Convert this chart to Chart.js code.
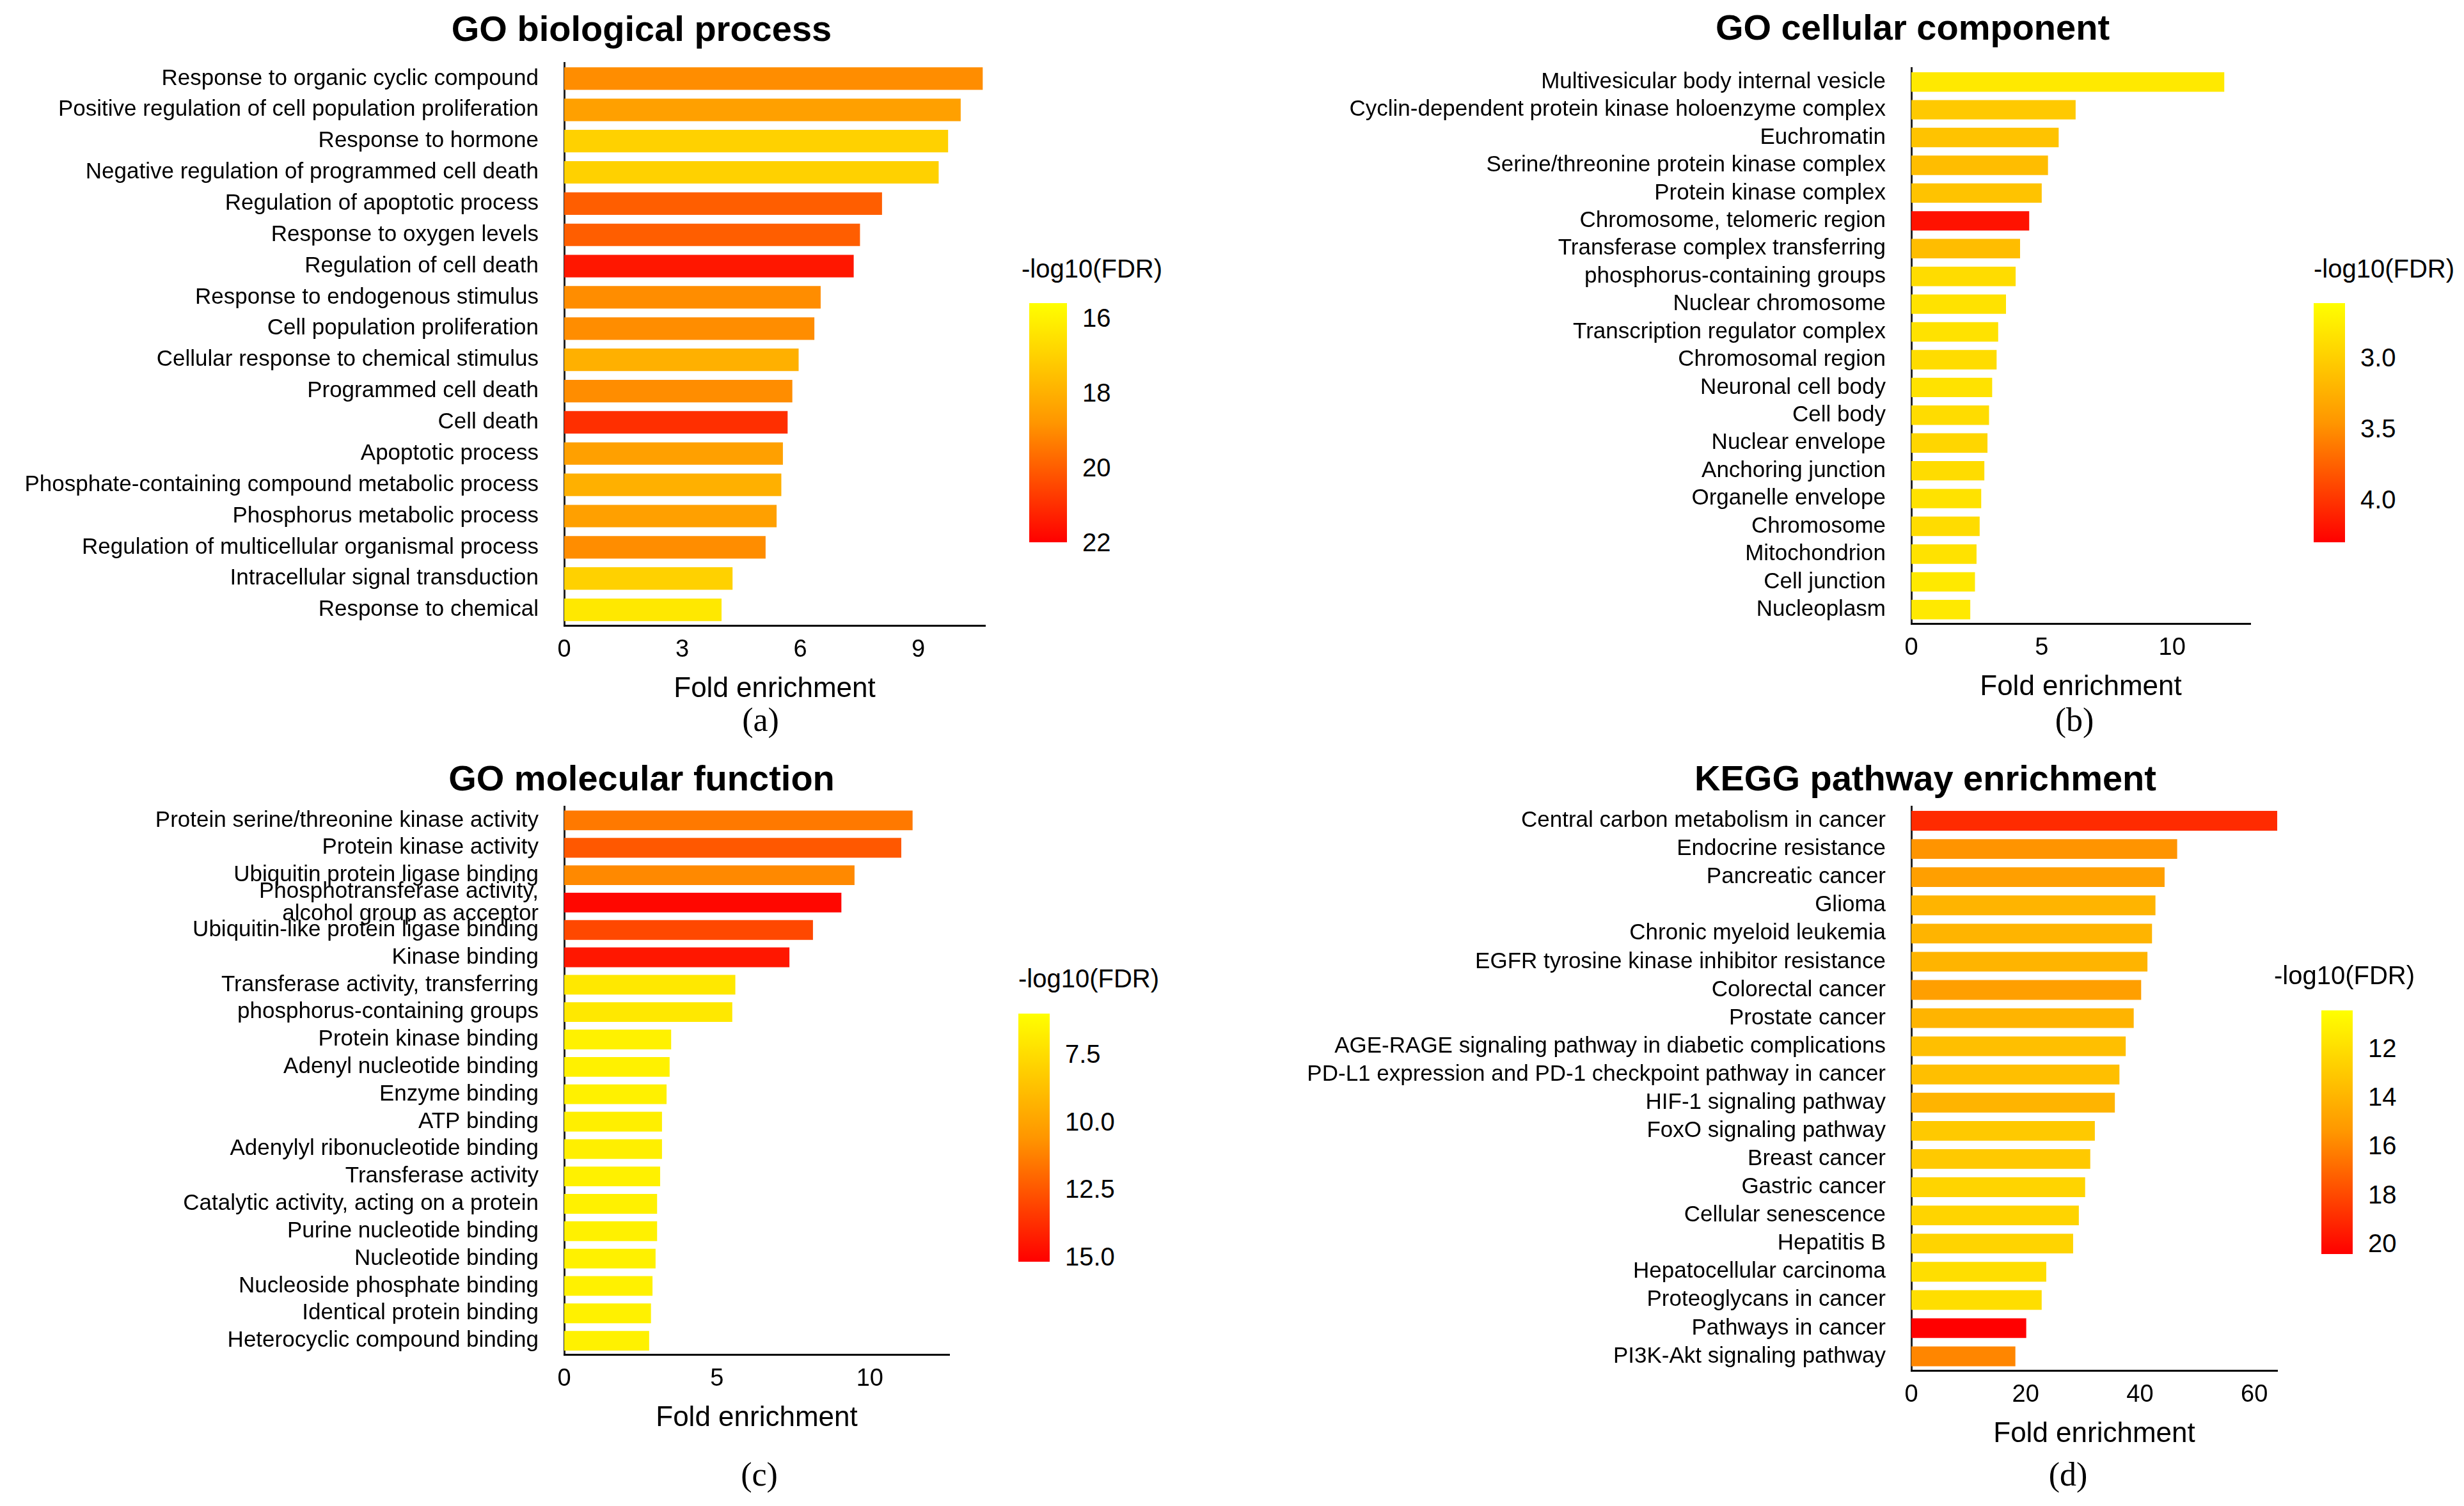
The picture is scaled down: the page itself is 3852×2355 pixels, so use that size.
<!DOCTYPE html>
<html>
<head>
<meta charset="utf-8">
<script src="https://cdn.jsdelivr.net/npm/chart.js@4/dist/chart.umd.min.js"></script>
<style>
  body { margin: 0; background: #fff; width: 3852px; height: 2355px; position: relative; overflow: hidden;
         font-family: "Liberation Sans", Arial, sans-serif; }
  canvas { position: absolute; }
  .title { position: absolute; font-weight: bold; font-size: 56px; transform: translate(-50%, -50%); white-space: nowrap; }
  .letter { position: absolute; font-family: "Liberation Serif", serif; font-size: 52px; transform: translate(-50%, -50%); }
  .lgtitle { position: absolute; font-size: 40px; white-space: nowrap; }
  .lgbar { position: absolute; }
  .lgtick { position: absolute; font-size: 40px; transform: translateY(-50%); }
</style>
</head>
<body>
<script>
// GO biological process
const bpLabels = ['Response to organic cyclic compound', 'Positive regulation of cell population proliferation',
  'Response to hormone', 'Negative regulation of programmed cell death', 'Regulation of apoptotic process',
  'Response to oxygen levels', 'Regulation of cell death', 'Response to endogenous stimulus',
  'Cell population proliferation', 'Cellular response to chemical stimulus', 'Programmed cell death',
  'Cell death', 'Apoptotic process', 'Phosphate-containing compound metabolic process',
  'Phosphorus metabolic process', 'Regulation of multicellular organismal process',
  'Intracellular signal transduction', 'Response to chemical'];
const bpFold = [10.64, 10.08, 9.76, 9.52, 8.08, 7.52, 7.36, 6.52, 6.36, 5.96, 5.8, 5.68, 5.56, 5.52, 5.4, 5.12, 4.28, 4.0];
const bpFdr = [19, 18.5, 17, 17, 20, 20, 21.5, 19, 19, 18, 19, 21, 18.5, 18, 18.5, 19, 17, 16.3];
const bpTicks = [16, 18, 20, 22];

// GO cellular component (the two-line label has a bar on each line in the figure)
const ccLabels = ['Multivesicular body internal vesicle', 'Cyclin-dependent protein kinase holoenzyme complex',
  'Euchromatin', 'Serine/threonine protein kinase complex', 'Protein kinase complex', 'Chromosome, telomeric region',
  'Transferase complex transferring', 'phosphorus-containing groups', 'Nuclear chromosome',
  'Transcription regulator complex', 'Chromosomal region', 'Neuronal cell body', 'Cell body', 'Nuclear envelope',
  'Anchoring junction', 'Organelle envelope', 'Chromosome', 'Mitochondrion', 'Cell junction', 'Nucleoplasm'];
const ccFold = [12.0, 6.3, 5.65, 5.24, 5.0, 4.52, 4.17, 4.0, 3.63, 3.33, 3.27, 3.1, 2.98, 2.92, 2.8, 2.68, 2.62, 2.5, 2.44, 2.26];
const ccFdr = [2.8, 3.05, 3.1, 3.15, 3.1, 4.2, 3.15, 2.9, 2.85, 2.85, 2.9, 2.85, 2.9, 2.95, 2.9, 2.85, 2.9, 2.85, 2.8, 2.8];
const ccTicks = [3.0, 3.5, 4.0];

// GO molecular function
const mfLabels = ['Protein serine/threonine kinase activity', 'Protein kinase activity', 'Ubiquitin protein ligase binding',
  ['Phosphotransferase activity,', 'alcohol group as acceptor'], 'Ubiquitin-like protein ligase binding', 'Kinase binding',
  'Transferase activity, transferring', 'phosphorus-containing groups', 'Protein kinase binding',
  'Adenyl nucleotide binding', 'Enzyme binding', 'ATP binding', 'Adenylyl ribonucleotide binding', 'Transferase activity',
  'Catalytic activity, acting on a protein', 'Purine nucleotide binding', 'Nucleotide binding',
  'Nucleoside phosphate binding', 'Identical protein binding', 'Heterocyclic compound binding'];
const mfFold = [11.4, 11.03, 9.5, 9.07, 8.14, 7.37, 5.6, 5.5, 3.5, 3.45, 3.35, 3.2, 3.2, 3.14, 3.04, 3.04, 2.99, 2.89, 2.84, 2.78];
const mfFdr = [11.5, 12.5, 11, 15, 13, 14.5, 7, 7, 6.6, 6.6, 6.6, 6.7, 6.7, 6.6, 6.6, 6.6, 6.6, 6.6, 6.6, 6.6];
const mfTicks = [7.5, 10.0, 12.5, 15.0];

// KEGG
const kgLabels = ['Central carbon metabolism in cancer', 'Endocrine resistance', 'Pancreatic cancer', 'Glioma',
  'Chronic myeloid leukemia', 'EGFR tyrosine kinase inhibitor resistance', 'Colorectal cancer', 'Prostate cancer',
  'AGE-RAGE signaling pathway in diabetic complications', 'PD-L1 expression and PD-1 checkpoint pathway in cancer',
  'HIF-1 signaling pathway', 'FoxO signaling pathway', 'Breast cancer', 'Gastric cancer', 'Cellular senescence',
  'Hepatitis B', 'Hepatocellular carcinoma', 'Proteoglycans in cancer', 'Pathways in cancer', 'PI3K-Akt signaling pathway'];
const kgFold = [64, 46.5, 44.3, 42.7, 42.1, 41.3, 40.2, 38.9, 37.5, 36.4, 35.6, 32.1, 31.3, 30.4, 29.3, 28.3, 23.6, 22.8, 20.1, 18.2];
const kgFdr = [19, 15.5, 15, 14, 14, 14, 15, 14, 13.5, 13.5, 14, 13, 13, 12.5, 12.5, 12.5, 12, 12, 20.5, 16];
const kgTicks = [12, 14, 16, 18, 20];

const stops = [[0, [255, 255, 0]], [0.5, [255, 150, 0]], [1, [255, 0, 0]]];
function colorAt(t) {
  t = Math.max(0, Math.min(1, t));
  for (let i = 1; i < stops.length; i++) {
    if (t <= stops[i][0]) {
      const a = stops[i - 1], b = stops[i];
      const f = (t - a[0]) / (b[0] - a[0]);
      const c = a[1].map((v, k) => Math.round(v + (b[1][k] - v) * f));
      return `rgb(${c[0]},${c[1]},${c[2]})`;
    }
  }
}

function el(cls, txt, css) {
  const d = document.createElement('div');
  d.className = cls;
  if (txt) d.textContent = txt;
  Object.assign(d.style, css);
  document.body.appendChild(d);
  return d;
}

function panel(p) {
  const cv = document.createElement('canvas');
  cv.width = p.w; cv.height = p.h;
  cv.style.left = p.x + 'px'; cv.style.top = p.y + 'px';
  document.body.appendChild(cv);
  new Chart(cv, {
    type: 'bar',
    data: {
      labels: p.labels,
      datasets: [{
        data: p.fold,
        backgroundColor: p.fdr.map(v => colorAt((v - p.cmin) / (p.cmax - p.cmin))),
        categoryPercentage: 1, barPercentage: p.bar
      }]
    },
    options: {
      indexAxis: 'y', responsive: false, animation: false, devicePixelRatio: 1,
      layout: { padding: { top: p.padTop, right: 20 } },
      plugins: { legend: { display: false }, tooltip: { enabled: false } },
      scales: {
        y: {
          grid: { display: false, drawTicks: true, tickLength: 12, tickColor: '#000', tickWidth: 3 },
          border: { color: '#222', width: 3 },
          ticks: { color: '#000', font: { size: 35, family: 'Liberation Sans', lineHeight: 1.0 }, padding: 28, autoSkip: false },
          afterFit: s => { s.width = p.yw; }
        },
        x: {
          min: 0, max: p.xmax,
          grid: { display: false, drawTicks: true, tickLength: 12, tickColor: '#000', tickWidth: 3 },
          border: { color: '#000', width: 3 },
          afterBuildTicks: s => {
            const t = [];
            for (let v = 0; v <= p.xmax + 1e-9; v += p.step) t.push({ value: v });
            s.ticks = t;
          },
          ticks: { autoSkip: false, maxRotation: 0, color: '#000',
                   font: { size: 38, family: 'Liberation Sans' }, padding: 4 },
          title: { display: true, text: 'Fold enrichment', color: '#000', font: { size: 44, family: 'Liberation Sans' }, padding: { top: 14 } },
          afterFit: s => { s.height = 130; }
        }
      }
    }
  });
  el('title', p.title, { left: p.tx + 'px', top: p.ty + 'px' });
  el('letter', p.letter, { left: p.lx + 'px', top: p.ly + 'px' });
  // colour legend
  const L = p.lg;
  el('lgtitle', '-log10(FDR)', { left: L.tx + 'px', top: L.ty + 'px' });
  el('lgbar', '', { left: L.x + 'px', top: L.y + 'px', width: L.w + 'px', height: L.h + 'px',
    background: 'linear-gradient(to bottom,' + stops.map(s => colorAt(s[0]) + ' ' + s[0] * 100 + '%').join(',') + ')' });
  p.ticks.forEach(t => {
    const f = (t - p.cmin) / (p.cmax - p.cmin);
    el('lgtick', t.toFixed(p.dec), { left: (L.x + L.w + 24) + 'px', top: (L.y + f * L.h) + 'px' });
  });
}

panel({ labels: bpLabels, fold: bpFold, fdr: bpFdr, ticks: bpTicks, cmin: 15.6, cmax: 22, dec: 0,
  x: 0, y: 53, w: 1560, h: 1055, yw: 882, padTop: 15, xmax: 10.7, step: 3, bar: 0.72,
  title: 'GO biological process', tx: 1003, ty: 44, letter: '(a)', lx: 1189, ly: 1125,
  lg: { x: 1609, y: 474, w: 59, h: 374, tx: 1597, ty: 398 } });

panel({ labels: ccLabels, fold: ccFold, fdr: ccFdr, ticks: ccTicks, cmin: 2.62, cmax: 4.3, dec: 1,
  x: 2000, y: 61, w: 1538, h: 1044, yw: 988, padTop: 23, xmax: 13, step: 5, bar: 0.7,
  title: 'GO cellular component', tx: 2990, ty: 42, letter: '(b)', lx: 3243, ly: 1125,
  lg: { x: 3617, y: 474, w: 49, h: 374, tx: 3617, ty: 398 } });

panel({ labels: mfLabels, fold: mfFold, fdr: mfFdr, ticks: mfTicks, cmin: 6.0, cmax: 15.2, dec: 1,
  x: 0, y: 1216, w: 1504, h: 1032, yw: 882, padTop: 9, xmax: 12.6, step: 5, bar: 0.72,
  title: 'GO molecular function', tx: 1003, ty: 1216, letter: '(c)', lx: 1187, ly: 2305,
  lg: { x: 1592, y: 1585, w: 49, h: 388, tx: 1592, ty: 1508 } });

panel({ labels: kgLabels, fold: kgFold, fdr: kgFdr, ticks: kgTicks, cmin: 10.45, cmax: 20.45, dec: 0,
  x: 2000, y: 1216, w: 1580, h: 1057, yw: 988, padTop: 8, xmax: 64, step: 20, bar: 0.7,
  title: 'KEGG pathway enrichment', tx: 3010, ty: 1216, letter: '(d)', lx: 3233, ly: 2305,
  lg: { x: 3629, y: 1580, w: 49, h: 381, tx: 3555, ty: 1503 } });
</script>
</body>
</html>
